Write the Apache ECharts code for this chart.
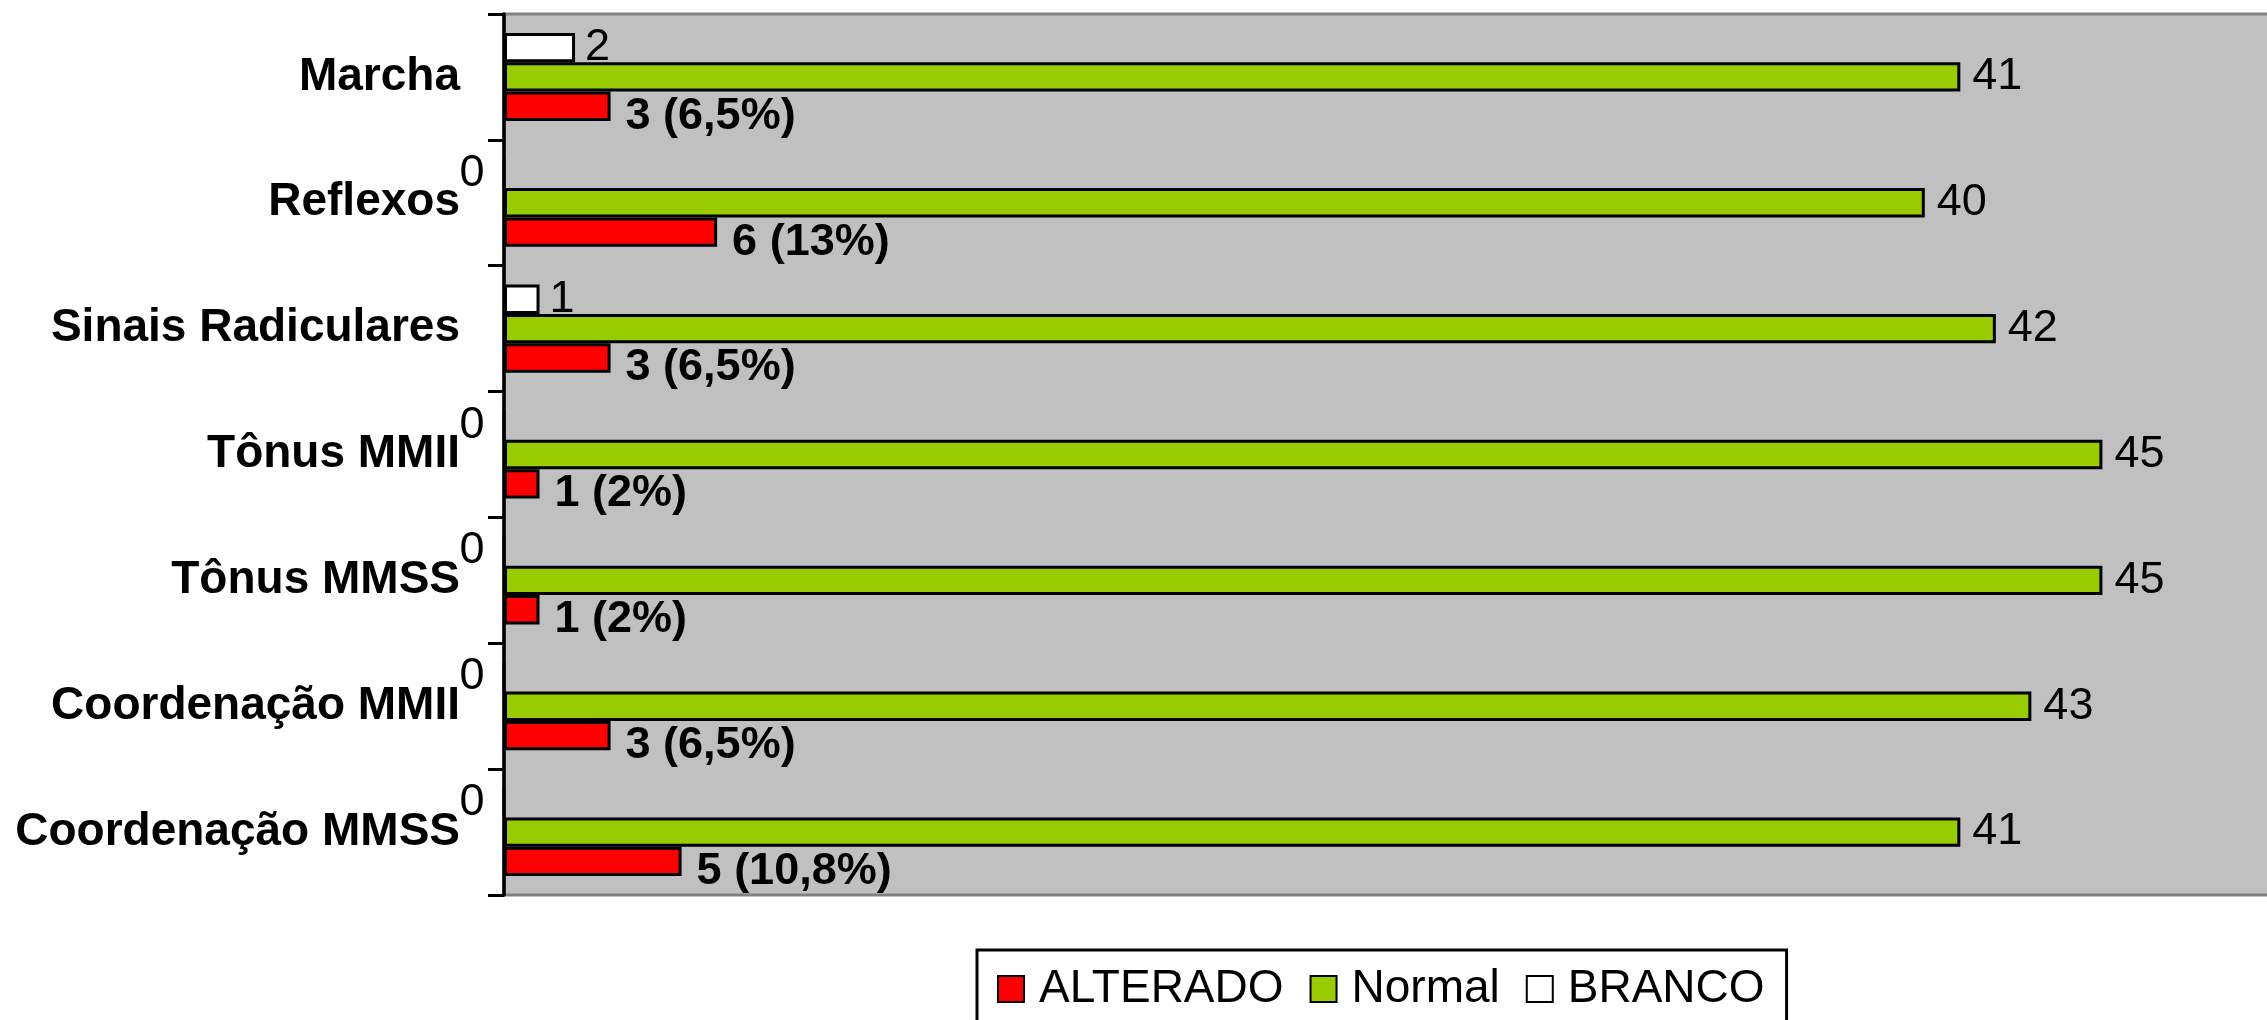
<!DOCTYPE html>
<html>
<head>
<meta charset="utf-8">
<script src="https://cdn.jsdelivr.net/npm/echarts@6/dist/echarts.min.js"></script>
<style>
  html, body { margin: 0; padding: 0; background: #fff; }
  #main { width: 2267px; height: 1020px; }
</style>
</head>
<body>
<div id="main"></div>
<script>
const categories = ['Marcha', 'Reflexos', 'Sinais Radiculares', 'Tônus MMII', 'Tônus MMSS', 'Coordenação MMII', 'Coordenação MMSS']
const alterado = [3, 6, 3, 1, 1, 3, 5]
const alteradoPct = ['6,5', '13', '6,5', '2', '2', '6,5', '10,8']
const normal = [41, 40, 42, 45, 45, 43, 41]
const branco = [2, 0, 1, 0, 0, 0, 0]
const legendNames = ['ALTERADO', 'Normal', 'BRANCO']

const font = "'Liberation Sans', Arial, sans-serif"

// zero values get their label on the left of the axis, like the original
function withZeroLabels(arr) {
  return arr.map(v => v === 0
    ? { value: v, label: { position: 'left', distance: 18 } }
    : v)
}

const chart = echarts.init(document.getElementById('main'))
chart.setOption({
  animation: false,
  grid: {
    left: 504,
    top: 14,
    bottom: 125,
    right: -13,
    show: true,
    backgroundColor: '#C0C0C0',
    borderColor: '#808080',
    borderWidth: 3,
    outerBoundsMode: 'none'
  },
  legend: {
    data: legendNames,
    left: 977,
    top: 950,
    icon: 'rect',
    itemWidth: 26,
    itemHeight: 26,
    itemGap: 26,
    borderColor: '#000',
    borderWidth: 3,
    backgroundColor: '#fff',
    padding: [16, 22, 30, 20],
    textStyle: {
      fontSize: 46,
      color: '#000',
      fontFamily: font,
      padding: [0, 0, 0, 10]
    }
  },
  xAxis: {
    type: 'value',
    min: 0,
    max: 50,
    axisLine: { show: false },
    axisTick: { show: false },
    axisLabel: { show: false },
    splitLine: { show: false }
  },
  yAxis: {
    type: 'category',
    data: categories,
    inverse: true,
    axisLine: { show: true, lineStyle: { color: '#000', width: 3.5 } },
    axisTick: { show: true, length: 16, lineStyle: { color: '#000', width: 3 } },
    axisLabel: {
      margin: 44,
      fontSize: 46,
      fontWeight: 'bold',
      color: '#000',
      fontFamily: font
    }
  },
  series: [
    {
      name: 'BRANCO',
      type: 'bar',
      data: withZeroLabels(branco),
      barGap: '0%',
      barCategoryGap: '30%',
      itemStyle: { color: '#FFFFFF', borderColor: '#000', borderWidth: 3 },
      label: {
        show: true,
        position: 'right',
        distance: 10,
        fontSize: 45,
        color: '#000',
        fontFamily: font
      }
    },
    {
      name: 'Normal',
      type: 'bar',
      data: normal,
      barGap: '0%',
      barCategoryGap: '30%',
      itemStyle: { color: '#99CC00', borderColor: '#000', borderWidth: 3 },
      label: {
        show: true,
        position: 'right',
        distance: 12,
        fontSize: 45,
        color: '#000',
        fontFamily: font
      }
    },
    {
      name: 'ALTERADO',
      type: 'bar',
      data: alterado,
      barGap: '0%',
      barCategoryGap: '30%',
      itemStyle: { color: '#FF0000', borderColor: '#000', borderWidth: 3 },
      label: {
        show: true,
        position: 'right',
        distance: 15,
        offset: [0, 10],
        fontSize: 45,
        fontWeight: 'bold',
        color: '#000',
        fontFamily: font,
        formatter: p => p.value + ' (' + alteradoPct[p.dataIndex] + '%)'
      }
    }
  ]
})
</script>
</body>
</html>
